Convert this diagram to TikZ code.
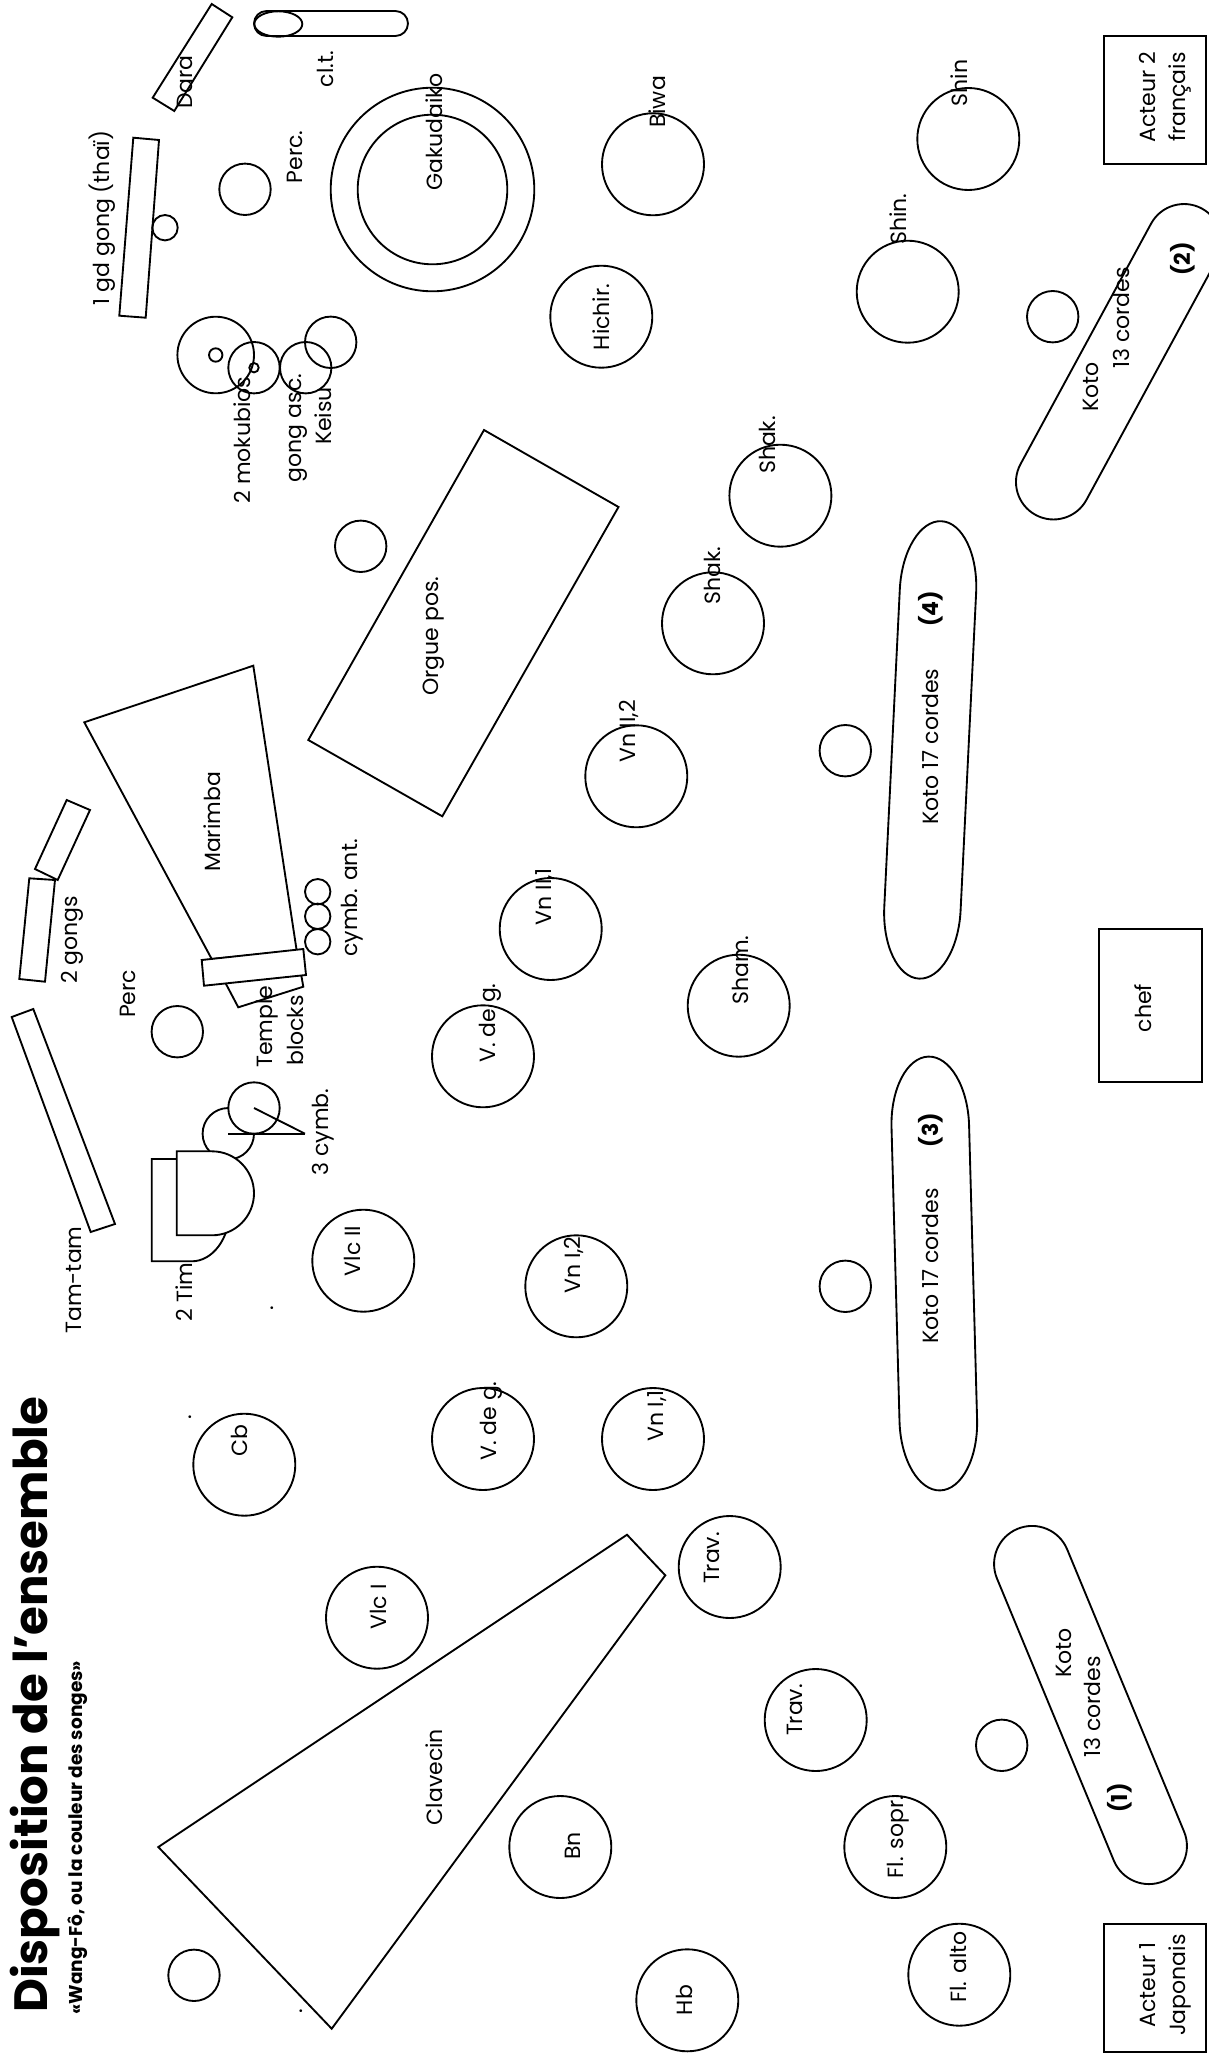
\documentclass[tikz,border=0pt]{standalone}
\usepackage{fontspec}
\setmainfont{Poppins}
\tikzset{
  inst/.style={draw=black, line width=1.4pt, line join=miter},
  wfill/.style={inst, fill=white},
  lbl/.style={rotate=90, inner sep=0pt, font=\fontsize{16.5}{22.5}\selectfont, align=center},
  numlbl/.style={lbl, font=\fontsize{16.5}{22.5}\selectfont\bfseries},
  ttl/.style={rotate=90, inner sep=0pt, anchor=base west, font=\fontsize{35}{40}\selectfont\bfseries},
  subttl/.style={rotate=90, inner sep=0pt, anchor=base west, font=\fontsize{13.9}{15}\selectfont\bfseries},
}
\begin{document}
\begin{tikzpicture}[x=0.75pt,y=-0.75pt]
\useasboundingbox (0,0) rectangle (1209,2055);

% ---------- title ----------
\node[ttl] (title) at (47,2013) {Disposition de l'ensemble};
\node[subttl] (subtitle) at (82,2015) {«Wang-Fô, ou la couleur des songes»};

% ---------- top percussion ----------
\draw[inst] (211.7,4) -- (232.3,17.3) -- (174.3,111) -- (152.7,97.7) -- cycle;
\node[lbl] (dara) at (185,82) {Dara};
\draw[inst, rounded corners=9.4pt] (254,11) rectangle (408,36);
\draw[inst] (278.3,24) ellipse [x radius=24, y radius=12.7];
\node[lbl] (clt) at (325,69) {cl.t.};
\draw[inst] (245,189.3) circle [radius=25.7];
\node[lbl] (perca) at (295,157) {Perc.};
\draw[inst] (133.3,137.7) -- (159,140) -- (145.7,317.7) -- (119.3,315.7) -- cycle;
\draw[inst] (165,227.7) circle [radius=12.7];
\node[lbl] (gdgong) at (102,218) {1 gd gong (thaï)};
\draw[inst] (432.5,189.5) circle [radius=101.8];
\draw[inst] (432.5,189.5) circle [radius=74.8];
\node[lbl] (gaku) at (434,132) {Gakudaiko};
\draw[inst] (215.7,355) circle [radius=38.3];
\draw[inst] (215.7,355) circle [radius=6.7];
\draw[inst] (254,367.7) circle [radius=25.7];
\draw[inst] (254,367.7) circle [radius=4.7];
\draw[inst] (305.7,367.7) circle [radius=25.7];
\draw[inst] (330.7,342.3) circle [radius=25.7];
\node[lbl] (moku) at (242,440) {2 mokubios};
\node[lbl] (gongasc) at (298,428) {gong asc.};
\node[lbl] (keisu) at (323,416) {Keisu};

% ---------- top right ----------
\draw[inst] (653,164.3) circle [radius=51];
\node[lbl] (biwa) at (657,102) {Biwa};
\draw[inst] (601.3,316.7) circle [radius=51];
\node[lbl] (hichir) at (601,317) {Hichir.};
\draw[inst] (968.3,139) circle [radius=51];
\node[lbl] (shin) at (959,83) {Shin};
\draw[inst] (907.7,291.7) circle [radius=51];
\node[lbl] (shinb) at (898,219) {Shin.};
\draw[inst] (780.4,495.7) circle [radius=51];
\node[lbl] (shaka) at (767,445) {Shak.};
\draw[inst] (1103.7,36) rectangle (1206,164.3);
\node[lbl] (act2) at (1165,97) {Acteur 2\\français};
\draw[inst] (1052.7,316.7) circle [radius=25.7];
\begin{scope}[shift={(1118.75,361.75)}, rotate=-28.5]
  \draw[inst] (-37.5,-136.8) -- (-37.5,136.8) arc[start angle=180, end angle=0, radius=37.5]
    -- (37.5,-136.8) arc[start angle=0, end angle=-180, radius=37.5] -- cycle;
\end{scope}
\node[lbl] (koto2a) at (1091,387) {Koto};
\node[lbl] (koto2b) at (1121,318) {13 cordes};
\node[numlbl] (koto2n) at (1183,259) {(2)};

% ---------- middle ----------
\draw[inst] (484,430) -- (618.5,507) -- (442.3,816.3) -- (308.3,740) -- cycle;
\node[lbl] (orgue) at (434,636) {Orgue pos.};
\draw[inst] (360.7,546.3) circle [radius=25.7];
\draw[inst] (713,623.3) circle [radius=51];
\node[lbl] (shakb) at (712,575.5) {Shak.};
\draw[inst] (636.3,776.3) circle [radius=51];
\node[lbl] (vn22) at (629,731.5) {Vn II,2};
\draw[inst] (550.7,929) circle [radius=51];
\node[lbl] (vn21) at (545.5,896.5) {Vn II,1};
\draw[inst] (738.7,1005.7) circle [radius=51];
\node[lbl] (sham) at (740,970) {Sham.};
\draw[inst] (845.3,750.7) circle [radius=25.7];
\begin{scope}[shift={(930.2,749.9)}, rotate=-2.8]
  \draw[inst] (-38.2,-159) -- (-38.2,159) arc[start angle=180, end angle=0, x radius=38.2, y radius=70]
    -- (38.2,-159) arc[start angle=0, end angle=-180, x radius=38.2, y radius=70] -- cycle;
\end{scope}
\node[lbl] (koto4) at (930,746.5) {Koto 17 cordes};
\node[numlbl] (koto4n) at (931,609) {(4)};
\draw[inst] (1099.3,929) rectangle (1202,1082.3);
\node[lbl] (chef) at (1143,1008) {chef};

% ---------- marimba & percussion left ----------
\draw[inst] (84.3,722.3) -- (253.3,665.7) -- (296.7,950.7) -- (211.7,959) -- cycle;
\node[lbl] (marimba) at (212.5,822) {Marimba};
\draw[wfill] (226,984) -- (238.3,1007.3) -- (303.3,986.7) -- (300,968) -- (222,975) -- cycle;
\draw[wfill] (201.7,960) -- (303.3,949) -- (306,975) -- (204,985.7) -- cycle;
\node[lbl, anchor=west] (temple) at (267.5,1068) {Temple};
\node[lbl, anchor=west] (blocks) at (295,1066) {blocks};
\draw[inst] (317.7,891.7) circle [radius=12.7];
\draw[inst] (317.7,916.3) circle [radius=12.7];
\draw[inst] (317.7,941.7) circle [radius=12.7];
\node[lbl] (cymbant) at (352.5,898) {cymb. ant.};
\draw[inst] (66.7,800) -- (90,810) -- (57.7,880) -- (35,869) -- cycle;
\draw[inst] (29.3,878.3) -- (55,880) -- (45,981.7) -- (19.3,979) -- cycle;
\node[lbl] (gongs) at (72.5,940) {2 gongs};
\draw[inst] (177.3,1031.7) circle [radius=25.7];
\node[lbl] (percb) at (128,994) {Perc};
\draw[inst] (11.7,1017) -- (33.3,1009) -- (115,1224) -- (90.7,1232) -- cycle;
\node[lbl] (tamtam) at (73.5,1280) {Tam-tam};

% cymbals and timbales
\draw[inst] (228.3,1133.7) circle [radius=25.7];
\draw[wfill] (254,1108) circle [radius=25.7];
\draw[inst] (228.3,1133.7) -- (305,1133.7);
\draw[inst] (254,1108) -- (305,1133.7);
\node[lbl] (cymb3) at (323.5,1132) {3 cymb.};
\draw[wfill] (191.7,1159) -- (151.7,1159) -- (151.7,1261.3) -- (191.7,1261.3)
  arc[start angle=90, end angle=-90, x radius=38, y radius=51.15] -- cycle;
\draw[wfill] (212,1151.3) -- (176.7,1151.3) -- (176.7,1235.3) -- (212,1235.3)
  arc[start angle=90, end angle=-90, radius=42] -- cycle;
\node[lbl] (tim) at (184,1292) {2 Tim};
\node[lbl] (dot1) at (272.7,1308) {.};
\node[lbl] (dot2) at (190.5,1417) {.};
\node[lbl] (dot3) at (301.6,2011) {.};

% ---------- strings ----------
\draw[inst] (483,1056.3) circle [radius=51];
\node[lbl] (vdg1) at (490,1023) {V. de g.};
\draw[inst] (363.3,1260.7) circle [radius=51];
\node[lbl] (vlc2) at (352,1251) {Vlc II};
\draw[inst] (576.3,1286.3) circle [radius=51];
\node[lbl] (vn12) at (574,1265) {Vn I,2};
\draw[inst] (244.3,1464.7) circle [radius=51];
\node[lbl] (cb) at (239,1441) {Cb};
\draw[inst] (483,1439) circle [radius=51];
\node[lbl] (vdg2) at (491,1421) {V. de g.};
\draw[inst] (653,1439) circle [radius=51];
\node[lbl] (vn11) at (657,1416) {Vn I,1};
\draw[inst] (845.3,1286.3) circle [radius=25.7];
\begin{scope}[shift={(934.3,1273.5)}, rotate=1.56]
  \draw[inst] (-38.8,-147) -- (-38.8,147) arc[start angle=180, end angle=0, x radius=38.8, y radius=70]
    -- (38.8,-147) arc[start angle=0, end angle=-180, x radius=38.8, y radius=70] -- cycle;
\end{scope}
\node[lbl] (koto3) at (930,1266) {Koto 17 cordes};
\node[numlbl] (koto3n) at (930.5,1130) {(3)};

% ---------- bottom ----------
\draw[inst] (158.3,1847) -- (627,1534.7) -- (665.3,1575.3) -- (331.7,2028.7) -- cycle;
\node[lbl] (clavecin) at (434,1777) {Clavecin};
\draw[inst] (377,1617.7) circle [radius=51];
\node[lbl] (vlc1) at (378,1607) {Vlc I};
\draw[inst] (194,1975.3) circle [radius=25.7];
\draw[inst] (729.7,1567) circle [radius=51];
\node[lbl] (trava) at (712,1558) {Trav.};
\draw[inst] (815.7,1720) circle [radius=51];
\node[lbl] (travb) at (795,1710) {Trav.};
\draw[inst] (560.3,1847) circle [radius=51];
\node[lbl] (bn) at (573,1846) {Bn};
\draw[inst] (687.3,2000.3) circle [radius=51];
\node[lbl] (hb) at (684.5,2000) {Hb};
\draw[inst] (895.3,1847) circle [radius=51];
\node[lbl] (flsopr) at (898,1837) {Fl. sopr.};
\draw[inst] (959.3,1974.7) circle [radius=51];
\node[lbl] (flalto) at (958,1967) {Fl. alto};
\draw[inst] (1001.7,1745.3) circle [radius=25.7];
\begin{scope}[shift={(1090.5,1705)}, rotate=22.5]
  \draw[inst] (-38,-152.7) -- (-38,152.7) arc[start angle=180, end angle=0, radius=38]
    -- (38,-152.7) arc[start angle=0, end angle=-180, radius=38] -- cycle;
\end{scope}
\node[lbl] (koto1a) at (1064,1653) {Koto};
\node[lbl] (koto1b) at (1092,1707) {13 cordes};
\node[numlbl] (koto1n) at (1120,1798) {(1)};
\draw[inst] (1103.7,1923.7) rectangle (1206,2052);
\node[lbl] (act1) at (1165,1985) {Acteur 1\\Japonais};
\end{tikzpicture}
\end{document}
